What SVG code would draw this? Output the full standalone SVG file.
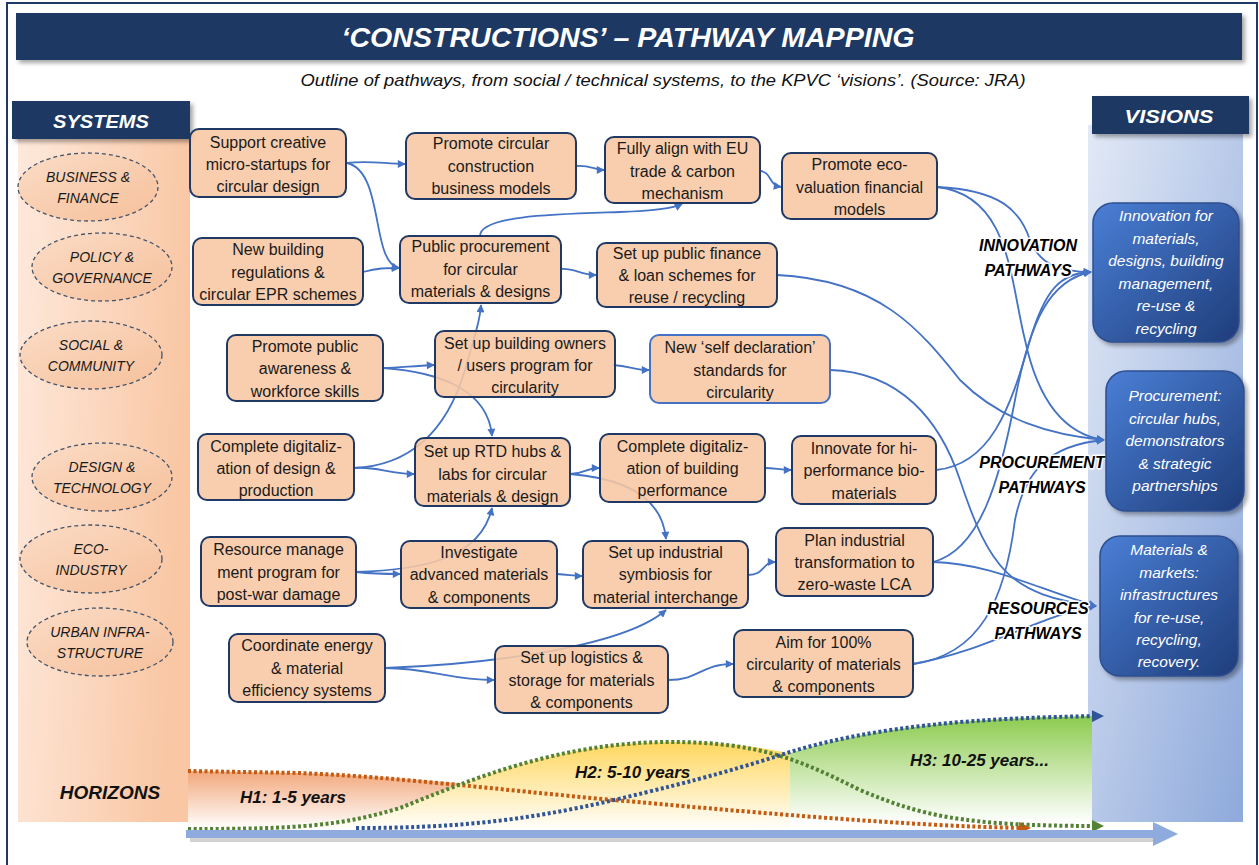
<svg xmlns="http://www.w3.org/2000/svg" width="1259" height="865" viewBox="0 0 1259 865">
<defs>
<style>
.nd{fill:#F8C7A3;fill-opacity:0.88;stroke:#1F3864;stroke-width:2}
.nt{font-family:"Liberation Sans",Arial,sans-serif;font-size:16px;fill:#1a1a1a;text-anchor:middle}
.el{fill:url(#gEl);stroke:#44546A;stroke-width:1.3;stroke-dasharray:4 3}
.et{font-family:"Liberation Sans",Arial,sans-serif;font-size:14px;font-style:italic;fill:#1a1a1a;text-anchor:middle}
.vb{fill:url(#gVis);stroke:#2F4F8F;stroke-width:1.5}
.vt{font-family:"Liberation Sans",Arial,sans-serif;font-size:15.5px;font-style:italic;fill:#ffffff;text-anchor:middle}
.pl{font-family:"Liberation Sans",Arial,sans-serif;font-size:16px;font-weight:bold;font-style:italic;fill:#000;text-anchor:middle;paint-order:stroke;stroke:#fff;stroke-width:3;stroke-linejoin:round}
.hd{font-family:"Liberation Sans",Arial,sans-serif;font-weight:bold;font-style:italic;fill:#fff;text-anchor:middle}
.ht{font-family:"Liberation Sans",Arial,sans-serif;font-size:17px;font-weight:bold;font-style:italic;fill:#111}
.cn{fill:none;stroke:#4472C4;stroke-width:1.8;marker-end:url(#ah)}
</style>
<linearGradient id="gLeft" x1="0" y1="0" x2="1" y2="0.2">
<stop offset="0" stop-color="#FEE9DC"/><stop offset="1" stop-color="#F9C7A4"/>
</linearGradient>
<linearGradient id="gRight" x1="0" y1="0" x2="1" y2="1">
<stop offset="0" stop-color="#E2E9F6"/><stop offset="1" stop-color="#8EA9DB"/>
</linearGradient>
<linearGradient id="gEl" x1="0" y1="0" x2="1" y2="1">
<stop offset="0" stop-color="#FBDCC6"/><stop offset="1" stop-color="#F6C09B"/>
</linearGradient>
<linearGradient id="gVis" x1="0" y1="0" x2="1" y2="1">
<stop offset="0" stop-color="#4A7FD6"/><stop offset="1" stop-color="#1F3D7A"/>
</linearGradient>
<linearGradient id="gH1" x1="0" y1="0" x2="0" y2="1">
<stop offset="0" stop-color="#F2A77A"/><stop offset="1" stop-color="#FFFFFF"/>
</linearGradient>
<linearGradient id="gH2" x1="0" y1="0" x2="0" y2="1">
<stop offset="0" stop-color="#FFD75E"/><stop offset="1" stop-color="#FFFFFF"/>
</linearGradient>
<linearGradient id="gH3" x1="0" y1="0" x2="0" y2="1">
<stop offset="0" stop-color="#8CCB4E"/><stop offset="1" stop-color="#FFFFFF"/>
</linearGradient>
<filter id="sh" x="-10%" y="-10%" width="130%" height="140%">
<feDropShadow dx="3" dy="3" stdDeviation="2" flood-color="#000" flood-opacity="0.35"/>
</filter>
<marker id="ah" viewBox="0 0 10 10" refX="9" refY="5" markerWidth="9" markerHeight="8" markerUnits="userSpaceOnUse" orient="auto">
<path d="M0,0 L10,5 L0,10 z" fill="#4472C4"/>
</marker>
<marker id="aO" viewBox="0 0 10 10" refX="5" refY="5" markerWidth="12" markerHeight="12" markerUnits="userSpaceOnUse" orient="auto">
<path d="M0,0 L10,5 L0,10 z" fill="#C55A11"/>
</marker>
<marker id="aG" viewBox="0 0 10 10" refX="5" refY="5" markerWidth="12" markerHeight="12" markerUnits="userSpaceOnUse" orient="auto">
<path d="M0,0 L10,5 L0,10 z" fill="#548235"/>
</marker>
<marker id="aB" viewBox="0 0 10 10" refX="5" refY="5" markerWidth="12" markerHeight="12" markerUnits="userSpaceOnUse" orient="auto">
<path d="M0,0 L10,5 L0,10 z" fill="#2F5597"/>
</marker>
</defs>

<rect x="0" y="0" width="1259" height="865" fill="#ffffff"/>
<rect x="7" y="3" width="1250" height="880" fill="none" stroke="#1F3864" stroke-width="2"/>

<g id="title">
<rect x="16" y="13" width="1226" height="47" fill="#1F3864" filter="url(#sh)"/>
<text class="hd" x="628" y="47" font-size="28" textLength="573" lengthAdjust="spacingAndGlyphs">‘CONSTRUCTIONS’ – PATHWAY MAPPING</text>
<text x="663" y="86" font-family="Liberation Sans, Arial, sans-serif" font-size="17" font-style="italic" fill="#111" text-anchor="middle" textLength="725" lengthAdjust="spacingAndGlyphs">Outline of pathways, from social / technical systems, to the KPVC ‘visions’.  (Source: JRA)</text>
</g>

<rect x="18" y="139" width="172" height="683" fill="url(#gLeft)"/>
<rect x="1088" y="125" width="155" height="697" fill="url(#gRight)"/>

<g id="systems-header">
<rect x="12" y="101" width="178" height="38" fill="#1F3864" filter="url(#sh)"/>
<text class="hd" x="101" y="128" font-size="19" textLength="96" lengthAdjust="spacingAndGlyphs">SYSTEMS</text>
</g>
<g id="visions-header">
<rect x="1092" y="96" width="157" height="38" fill="#1F3864" filter="url(#sh)"/>
<text class="hd" x="1169" y="123" font-size="19" textLength="89" lengthAdjust="spacingAndGlyphs">VISIONS</text>
</g>

<g id="s-business"><ellipse class="el" cx="88" cy="187" rx="70" ry="34"/><text class="et" x="88" y="182">BUSINESS &amp;</text><text class="et" x="88" y="203">FINANCE</text></g>
<g id="s-policy"><ellipse class="el" cx="102" cy="267" rx="70" ry="34"/><text class="et" x="102" y="262">POLICY &amp;</text><text class="et" x="102" y="283">GOVERNANCE</text></g>
<g id="s-social"><ellipse class="el" cx="91" cy="355" rx="71" ry="34"/><text class="et" x="91" y="350">SOCIAL &amp;</text><text class="et" x="91" y="371">COMMUNITY</text></g>
<g id="s-design"><ellipse class="el" cx="102" cy="477" rx="70" ry="34"/><text class="et" x="102" y="472">DESIGN &amp;</text><text class="et" x="102" y="493">TECHNOLOGY</text></g>
<g id="s-eco"><ellipse class="el" cx="91" cy="559" rx="71" ry="34"/><text class="et" x="91" y="554">ECO-</text><text class="et" x="91" y="575">INDUSTRY</text></g>
<g id="s-urban"><ellipse class="el" cx="100" cy="642" rx="73" ry="34"/><text class="et" x="100" y="637">URBAN INFRA-</text><text class="et" x="100" y="658">STRUCTURE</text></g>

<g id="horizons">
<path d="M188,771 L300,773 C380,776 430,781 470,784 C440,795 420,803 400,808 C340,826 300,829 188,829 Z" fill="url(#gH1)"/>
<path d="M188,829 C300,829 340,826 400,808 C470,780 560,742 670,742 C740,742 770,750 790,753 L790,831 L188,831 Z" fill="url(#gH2)"/>
<path d="M790,753 C880,725 980,718 1092,716 L1092,823 L790,823 Z" fill="url(#gH3)"/>
<path d="M188,771 L300,773 C400,777 500,790 614,800 S900,826 1025,828" fill="none" stroke="#C55A11" stroke-width="4" stroke-dasharray="3 2.5" marker-end="url(#aO)"/>
<path d="M188,829 C300,829 340,826 400,808 C470,780 560,742 670,742 C760,742 800,760 860,790 C920,815 960,826 1098,826" fill="none" stroke="#548235" stroke-width="4" stroke-dasharray="3 2.5" marker-end="url(#aG)"/>
<path d="M356,828 C450,828 520,822 614,800 C700,780 750,765 790,752 C880,725 980,718 1098,716" fill="none" stroke="#2F5597" stroke-width="4" stroke-dasharray="3 2.5" marker-end="url(#aB)"/>
<rect x="190" y="834" width="966" height="8" fill="#7f7f7f" opacity="0.35"/>
<rect x="186" y="830" width="970" height="8" fill="#8FAADC"/>
<polygon points="1153,822 1178,834 1153,846" fill="#8FAADC"/>
<text class="ht" x="240" y="803">H1:  1-5 years</text>
<text class="ht" x="575" y="778">H2:  5-10 years</text>
<text class="ht" x="910" y="766">H3: 10-25 years...</text>
<text x="110" y="799" font-family="Liberation Sans, Arial, sans-serif" font-size="19" font-weight="bold" font-style="italic" fill="#111" text-anchor="middle">HORIZONS</text>
</g>

<g id="connectors">
<path class="cn" d="M347,163 C370,160 385,164 405,164"/>
<path class="cn" d="M347,163 C385,172 370,262 399,268"/>
<path class="cn" d="M363,272 C378,268 385,268 399,268"/>
<path class="cn" d="M576,166 C590,165 595,170 604,170"/>
<path class="cn" d="M480,236 C480,215 560,214 620,212 C650,211 672,209 682,204"/>
<path class="cn" d="M561,269 C575,268 580,275 596,275"/>
<path class="cn" d="M760,171 C772,172 768,185 781,187"/>
<path class="cn" d="M937,187 C1000,190 1020,210 1030,240 C1040,265 1060,272 1091,272"/>
<path class="cn" d="M937,187 C1010,195 1010,280 1025,340 C1040,410 1070,435 1104,440"/>
<path class="cn" d="M777,275 C880,280 920,330 960,380 C1000,420 1050,435 1104,440"/>
<path class="cn" d="M383,368 C400,368 410,366 434,365"/>
<path class="cn" d="M383,368 C440,372 488,390 492,436"/>
<path class="cn" d="M613,365 C630,366 635,370 649,370"/>
<path class="cn" d="M830,370 C900,372 940,420 960,480 C990,570 1010,595 1096,606"/>
<path class="cn" d="M354,468 C375,466 390,474 414,474"/>
<path class="cn" d="M354,468 C420,465 450,420 465,370 C475,335 480,320 481,305"/>
<path class="cn" d="M570,474 C585,474 585,468 599,468"/>
<path class="cn" d="M570,474 C620,478 662,495 666,539"/>
<path class="cn" d="M765,468 C775,468 780,470 791,470"/>
<path class="cn" d="M936,470 C990,465 1010,410 1030,340 C1045,290 1060,273 1091,272"/>
<path class="cn" d="M356,572 C375,574 385,574 400,574"/>
<path class="cn" d="M356,572 C420,570 480,560 492,508"/>
<path class="cn" d="M557,574 C570,575 575,576 582,576"/>
<path class="cn" d="M748,575 C765,575 762,562 775,562"/>
<path class="cn" d="M933,562 C980,550 1000,480 1015,400 C1030,320 1050,280 1091,272"/>
<path class="cn" d="M933,562 C990,563 1040,590 1096,606"/>
<path class="cn" d="M385,668 C430,668 450,680 494,680"/>
<path class="cn" d="M385,668 C470,665 620,650 666,610"/>
<path class="cn" d="M668,680 C700,680 700,664 733,664"/>
<path class="cn" d="M913,664 C980,655 1005,600 1015,520 C1025,470 1050,445 1104,440"/>
<path class="cn" d="M913,664 C990,650 1040,615 1096,606"/>
</g>

<g id="n1"><rect class="nd" x="190" y="129" width="156" height="68" rx="9"/><text class="nt" x="268" y="148">Support creative</text><text class="nt" x="268" y="170">micro-startups for</text><text class="nt" x="268" y="192">circular design</text></g>
<g id="n2"><rect class="nd" x="406" y="133" width="170" height="66" rx="9"/><text class="nt" x="491" y="149">Promote circular</text><text class="nt" x="491" y="172">construction</text><text class="nt" x="491" y="194">business models</text></g>
<g id="n3"><rect class="nd" x="193" y="238" width="170" height="67" rx="9"/><text class="nt" x="278" y="255">New building</text><text class="nt" x="278" y="278">regulations &amp;</text><text class="nt" x="278" y="300">circular EPR schemes</text></g>
<g id="n4"><rect class="nd" x="400" y="236" width="161" height="67" rx="9"/><text class="nt" x="480.5" y="252">Public procurement</text><text class="nt" x="480.5" y="275">for circular</text><text class="nt" x="480.5" y="297">materials &amp; designs</text></g>
<g id="n5"><rect class="nd" x="605" y="137" width="155" height="66" rx="9"/><text class="nt" x="682.5" y="154">Fully align with EU</text><text class="nt" x="682.5" y="177">trade &amp; carbon</text><text class="nt" x="682.5" y="199">mechanism</text></g>
<g id="n6"><rect class="nd" x="782" y="153" width="155" height="66" rx="9"/><text class="nt" x="859.5" y="170">Promote eco-</text><text class="nt" x="859.5" y="193">valuation financial</text><text class="nt" x="859.5" y="215">models</text></g>
<g id="n7"><rect class="nd" x="597" y="243" width="180" height="64" rx="9"/><text class="nt" x="687" y="259">Set up public finance</text><text class="nt" x="687" y="281">&amp; loan schemes for</text><text class="nt" x="687" y="303">reuse / recycling</text></g>
<g id="n8"><rect class="nd" x="227" y="335" width="156" height="66" rx="9"/><text class="nt" x="305" y="352">Promote public</text><text class="nt" x="305" y="374">awareness &amp;</text><text class="nt" x="305" y="397">workforce skills</text></g>
<g id="n9"><rect class="nd" x="435" y="331" width="180" height="66" rx="9"/><text class="nt" x="525" y="349">Set up building owners</text><text class="nt" x="525" y="371">/ users program for</text><text class="nt" x="525" y="393">circularity</text></g>
<g id="n10"><rect class="nd" x="198" y="434" width="156" height="66" rx="9"/><text class="nt" x="276" y="452">Complete digitaliz-</text><text class="nt" x="276" y="474">ation of design &amp;</text><text class="nt" x="276" y="496">production</text></g>
<g id="n11"><rect class="nd" x="415" y="438" width="155" height="68" rx="9"/><text class="nt" x="492.5" y="457">Set up RTD hubs &amp;</text><text class="nt" x="492.5" y="480">labs for circular</text><text class="nt" x="492.5" y="502">materials &amp; design</text></g>
<g id="n12"><rect class="nd" x="650" y="335" width="180" height="68" rx="9" style="stroke:#4472C4"/><text class="nt" x="740" y="353">New ‘self declaration’</text><text class="nt" x="740" y="376">standards for</text><text class="nt" x="740" y="398">circularity</text></g>
<g id="n13"><rect class="nd" x="600" y="434" width="165" height="68" rx="9"/><text class="nt" x="682.5" y="452">Complete digitaliz-</text><text class="nt" x="682.5" y="474">ation of building</text><text class="nt" x="682.5" y="496">performance</text></g>
<g id="n14"><rect class="nd" x="792" y="436" width="144" height="68" rx="9"/><text class="nt" x="864" y="454">Innovate for hi-</text><text class="nt" x="864" y="476">performance bio-</text><text class="nt" x="864" y="499">materials</text></g>
<g id="n15"><rect class="nd" x="201" y="537" width="155" height="69" rx="9"/><text class="nt" x="278.5" y="555">Resource  manage</text><text class="nt" x="278.5" y="578">ment program for</text><text class="nt" x="278.5" y="600">post-war damage</text></g>
<g id="n16"><rect class="nd" x="401" y="541" width="156" height="67" rx="9"/><text class="nt" x="479" y="558">Investigate</text><text class="nt" x="479" y="580">advanced materials</text><text class="nt" x="479" y="603">&amp; components</text></g>
<g id="n17"><rect class="nd" x="229" y="634" width="156" height="68" rx="9"/><text class="nt" x="307" y="651">Coordinate energy</text><text class="nt" x="307" y="674">&amp; material</text><text class="nt" x="307" y="696">efficiency systems</text></g>
<g id="n18"><rect class="nd" x="495" y="646" width="173" height="67" rx="9"/><text class="nt" x="581.5" y="663">Set up logistics &amp;</text><text class="nt" x="581.5" y="686">storage for materials</text><text class="nt" x="581.5" y="708">&amp; components</text></g>
<g id="n19"><rect class="nd" x="583" y="541" width="165" height="67" rx="9"/><text class="nt" x="665.5" y="558">Set up industrial</text><text class="nt" x="665.5" y="580">symbiosis for</text><text class="nt" x="665.5" y="603">material interchange</text></g>
<g id="n20"><rect class="nd" x="776" y="528" width="157" height="68" rx="9"/><text class="nt" x="854.5" y="546">Plan industrial</text><text class="nt" x="854.5" y="568">transformation to</text><text class="nt" x="854.5" y="590">zero-waste LCA</text></g>
<g id="n21"><rect class="nd" x="734" y="630" width="179" height="67" rx="9"/><text class="nt" x="823.5" y="648">Aim for 100%</text><text class="nt" x="823.5" y="670">circularity of materials</text><text class="nt" x="823.5" y="692">&amp; components</text></g>

<g id="pathway-labels">
<text class="pl" x="1028" y="251">INNOVATION</text>
<text class="pl" x="1028" y="276">PATHWAYS</text>
<text class="pl" x="1042" y="468">PROCUREMENT</text>
<text class="pl" x="1042" y="493">PATHWAYS</text>
<text class="pl" x="1038" y="614">RESOURCES</text>
<text class="pl" x="1038" y="639">PATHWAYS</text>
</g>

<g id="v-innovation"><rect class="vb" x="1093" y="203" width="146" height="139" rx="20" filter="url(#sh)"/>
<text class="vt" x="1166" y="221">Innovation for</text><text class="vt" x="1166" y="244">materials,</text><text class="vt" x="1166" y="266">designs, building</text><text class="vt" x="1166" y="289">management,</text><text class="vt" x="1166" y="311">re-use  &amp;</text><text class="vt" x="1166" y="334">recycling</text></g>
<g id="v-procurement"><rect class="vb" x="1106" y="371" width="138" height="140" rx="20" filter="url(#sh)"/>
<text class="vt" x="1175" y="401">Procurement:</text><text class="vt" x="1175" y="424">circular hubs,</text><text class="vt" x="1175" y="446">demonstrators</text><text class="vt" x="1175" y="469">&amp; strategic</text><text class="vt" x="1175" y="491">partnerships</text></g>
<g id="v-materials"><rect class="vb" x="1100" y="536" width="138" height="140" rx="20" filter="url(#sh)"/>
<text class="vt" x="1169" y="555">Materials &amp;</text><text class="vt" x="1169" y="578">markets:</text><text class="vt" x="1169" y="600">infrastructures</text><text class="vt" x="1169" y="623">for re-use,</text><text class="vt" x="1169" y="645">recycling,</text><text class="vt" x="1169" y="667">recovery.</text></g>
</svg>
